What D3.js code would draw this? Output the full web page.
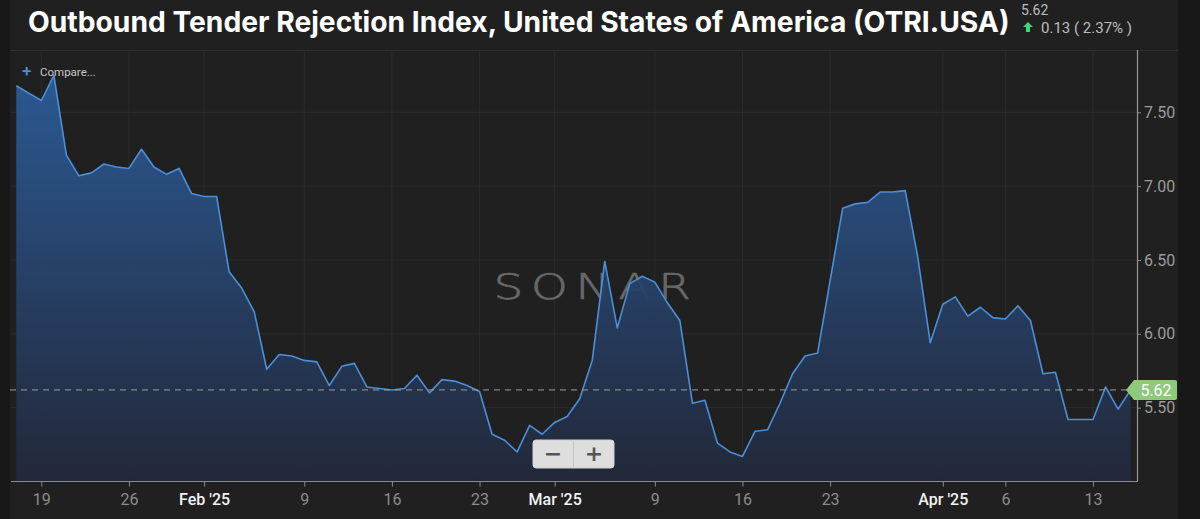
<!DOCTYPE html>
<html>
<head>
<meta charset="utf-8">
<script src="https://cdn.jsdelivr.net/npm/d3@7"></script>
<style>
  html, body { margin: 0; padding: 0; background: #181818; }
  #chart { width: 1200px; height: 519px; }
  .axis text { font-family: Roboto, sans-serif; }
</style>
</head>
<body>
<div id="chart"></div>
<script>
// OTRI.USA daily values, Jan 17 2025 -> Apr 16 2025
const startDate = "2025-01-17";
const endDate = "2025-04-16";
const otriValues = [
  7.68, 7.63, 7.58, 7.75, 7.21, 7.07, 7.09, 7.15, 7.13, 7.12,
  7.25, 7.13, 7.08, 7.12, 6.95, 6.93, 6.93, 6.42, 6.31, 6.15,
  5.76, 5.86, 5.85, 5.82, 5.81, 5.65, 5.78, 5.80, 5.64, 5.63,
  5.62, 5.63, 5.72, 5.60, 5.69, 5.68, 5.65, 5.61, 5.32, 5.28,
  5.20, 5.38, 5.32, 5.40, 5.44, 5.56, 5.82, 6.49, 6.04, 6.34,
  6.39, 6.35, 6.21, 6.09, 5.53, 5.55, 5.26, 5.20, 5.17, 5.34,
  5.35, 5.53, 5.73, 5.85, 5.87, 6.36, 6.85, 6.88, 6.89, 6.96,
  6.96, 6.97, 6.52, 5.94, 6.20, 6.25, 6.12, 6.18, 6.11, 6.10,
  6.19, 6.09, 5.73, 5.74, 5.42, 5.42, 5.42, 5.64, 5.49, 5.62
];
const xTickDates = ["2025-01-19", "2025-01-26", "2025-02-01", "2025-02-09", "2025-02-16", "2025-02-23",
                    "2025-03-01", "2025-03-09", "2025-03-16", "2025-03-23", "2025-04-01", "2025-04-06", "2025-04-13"];
const xTickLabels = ["19", "26", "Feb '25", "9", "16", "23", "Mar '25", "9", "16", "23", "Apr '25", "6", "13"];
const yTicks = [5.5, 6.0, 6.5, 7.0, 7.5];
const yDomain = [5.0, 7.922];
const chartTitle = "Outbound Tender Rejection Index, United States of America (OTRI.USA)";

function OtriChart(container) {
  this.container = "#" + container;
  this.width = 1200;
  this.height = 519;
  this.plot = { left: 10, top: 50, right: 1137, bottom: 481.5 };
  this.svg = null;
  this.x = null;
  this.y = null;
}

OtriChart.prototype = {
  constructor: OtriChart,

  init: function() {
    let self = this;
    let p = self.plot;
    let parse = d3.utcParse("%Y-%m-%d");
    let days = d3.utcDay.range(parse(startDate), d3.utcDay.offset(parse(endDate), 1));
    let data = days.map((d, i) => ({ date: d, value: otriValues[i] }));

    self.svg = d3.select(self.container).append("svg")
      .attr("width", self.width)
      .attr("height", self.height);

    // backgrounds
    self.svg.append("rect").attr("width", self.width).attr("height", self.height).attr("fill", "#181818");
    self.svg.append("rect").attr("x", 10).attr("width", 1168).attr("height", self.height).attr("fill", "#202020");
    self.svg.append("line")
      .attr("x1", 10).attr("x2", 1178).attr("y1", 50.5).attr("y2", 50.5)
      .attr("stroke", "#2f2f2f");

    self.x = d3.scaleUtc()
      .domain([parse(startDate), parse(endDate)])
      .range([16.3, 1130.6]);
    self.y = d3.scaleLinear()
      .domain(yDomain)
      .range([p.bottom, p.top]);

    let tickDates = xTickDates.map(parse);

    // grid
    self.svg.append("g").selectAll("line")
      .data(tickDates).enter().append("line")
      .attr("x1", d => self.x(d)).attr("x2", d => self.x(d))
      .attr("y1", p.top).attr("y2", p.bottom)
      .attr("stroke", "#2b2b2b");
    self.svg.append("g").selectAll("line")
      .data(yTicks).enter().append("line")
      .attr("x1", p.left).attr("x2", p.right)
      .attr("y1", d => self.y(d)).attr("y2", d => self.y(d))
      .attr("stroke", "#2b2b2b");

    // watermark
    self.svg.append("text")
      .attr("x", 0).attr("y", 0)
      .attr("transform", "translate(596,299) scale(1.3,1)")
      .attr("text-anchor", "middle")
      .attr("font-family", "'DejaVu Sans', sans-serif")
      .attr("font-weight", 200)
      .attr("font-size", 36)
      .attr("letter-spacing", 6)
      .attr("fill", "#686868")
      .attr("stroke", "#686868")
      .attr("stroke-width", 0.7)
      .text("SONAR");

    // area
    let defs = self.svg.append("defs");
    let grad = defs.append("linearGradient")
      .attr("id", "otriFill")
      .attr("gradientUnits", "userSpaceOnUse")
      .attr("x1", 0).attr("x2", 0).attr("y1", p.top).attr("y2", p.bottom);
    grad.append("stop").attr("offset", 0).attr("stop-color", "#2c5f9e").attr("stop-opacity", 0.95);
    grad.append("stop").attr("offset", 1).attr("stop-color", "#22283a").attr("stop-opacity", 0.95);

    let area = d3.area()
      .x(d => self.x(d.date))
      .y0(p.bottom)
      .y1(d => self.y(d.value));
    let line = d3.line()
      .x(d => self.x(d.date))
      .y(d => self.y(d.value));

    self.svg.append("path").datum(data)
      .attr("d", area)
      .attr("fill", "url(#otriFill)");
    self.svg.append("path").datum(data)
      .attr("d", line)
      .attr("fill", "none")
      .attr("stroke", "#4a8fd8")
      .attr("stroke-width", 1.6)
      .attr("stroke-linejoin", "round");

    // last value dashed line + label
    let last = data[data.length - 1];
    let prev = data[data.length - 2];
    let ly = self.y(last.value);
    self.svg.append("line")
      .attr("x1", p.left).attr("x2", self.x(last.date))
      .attr("y1", ly).attr("y2", ly)
      .attr("stroke", "#a09e90")
      .attr("stroke-width", 1)
      .attr("stroke-dasharray", "6,5");

    // x axis
    self.svg.append("line")
      .attr("x1", 11).attr("x2", p.right + 1)
      .attr("y1", p.bottom).attr("y2", p.bottom)
      .attr("stroke", "#8a8a8a").attr("stroke-width", 1.2);
    let xAxis = self.svg.append("g")
      .attr("class", "axis")
      .attr("transform", "translate(0," + p.bottom + ")")
      .call(d3.axisBottom(self.x)
        .tickValues(tickDates)
        .tickFormat((d, i) => xTickLabels[i])
        .tickSize(5)
        .tickPadding(7));
    xAxis.select(".domain").remove();
    xAxis.selectAll(".tick line").attr("stroke", "#8a8a8a");
    xAxis.selectAll(".tick text")
      .attr("font-size", 16)
      .attr("fill", (d, i) => xTickLabels[i].indexOf("'") >= 0 ? "#f2f2f2" : "#8c8c8c")
      .attr("font-weight", (d, i) => xTickLabels[i].indexOf("'") >= 0 ? 500 : 400);

    // y axis (right)
    let yAxis = self.svg.append("g")
      .attr("class", "axis")
      .attr("transform", "translate(" + p.right + ",0)")
      .call(d3.axisRight(self.y)
        .tickValues(yTicks)
        .tickFormat(d3.format(".2f"))
        .tickSize(4)
        .tickSizeOuter(0)
        .tickPadding(3));
    yAxis.select(".domain").attr("stroke", "#9a9a9a").attr("stroke-width", 1.2)
      .attr("d", "M0.5," + p.top + "V" + p.bottom);
    yAxis.selectAll(".tick line").attr("stroke", "#8a8a8a");
    yAxis.selectAll(".tick text").attr("font-size", 16).attr("fill", "#9c9c9c");

    let tag = self.svg.append("g").attr("transform", "translate(0," + ly + ")");
    tag.append("path")
      .attr("d", "M1126,0 L1134,-10 H1175 Q1177,-10 1177,-8 V8 Q1177,10 1175,10 H1134 Z")
      .attr("fill", "#8ec97c");
    tag.append("text")
      .attr("x", 1156).attr("y", 6)
      .attr("text-anchor", "middle")
      .attr("font-family", "Roboto, sans-serif")
      .attr("font-size", 16)
      .attr("fill", "#ffffff")
      .text(d3.format(".2f")(last.value));

    // header
    let title = self.svg.append("text")
      .attr("x", 28).attr("y", 31.5)
      .attr("font-family", "Inter, 'Open Sans', sans-serif")
      .attr("font-weight", 700)
      .attr("font-size", 30)
      .attr("fill", "#ffffff")
      .text(chartTitle);
    let tw = title.node().getComputedTextLength();
    title.attr("font-size", 30 * 982 / tw);

    let change = last.value - prev.value;
    self.svg.append("text")
      .attr("x", 1021).attr("y", 15)
      .attr("font-family", "Roboto, sans-serif")
      .attr("font-size", 14)
      .attr("fill", "#bdbdbd")
      .text(d3.format(".2f")(last.value));
    self.svg.append("path")
      .attr("d", "M1028,22 L1033,27 H1030 V32 H1026 V27 H1023 Z")
      .attr("fill", "#3ed67f");
    self.svg.append("text")
      .attr("x", 1041).attr("y", 33)
      .attr("font-family", "Roboto, sans-serif")
      .attr("font-size", 15)
      .attr("fill", "#bdbdbd")
      .text(d3.format(".2f")(change) + " ( " + d3.format(".2f")(change / prev.value * 100) + "% )");

    // compare + zoom controls
    self.svg.append("text")
      .attr("x", 22).attr("y", 77)
      .attr("font-family", "Roboto, sans-serif").attr("font-size", 17)
      .attr("font-weight", 500)
      .attr("fill", "#4a8fd8")
      .text("+");
    self.svg.append("text")
      .attr("x", 40).attr("y", 76)
      .attr("font-family", "Roboto, sans-serif").attr("font-size", 11.5)
      .attr("fill", "#c8c8c8")
      .text("Compare...");

    let zoom = self.svg.append("g").attr("transform", "translate(533,440)");
    zoom.append("rect").attr("width", 81).attr("height", 28).attr("rx", 3)
      .attr("fill", "#dedede").attr("stroke", "#cfcfcf");
    zoom.append("line").attr("x1", 40.5).attr("x2", 40.5).attr("y1", 1).attr("y2", 27).attr("stroke", "#c4c4c4");
    zoom.append("text").attr("x", 20).attr("y", 21).attr("text-anchor", "middle")
      .attr("font-family", "'DejaVu Sans', sans-serif").attr("font-weight", 700).attr("font-size", 22)
      .attr("fill", "#555").text("\u2212");
    zoom.append("text").attr("x", 61).attr("y", 21).attr("text-anchor", "middle")
      .attr("font-family", "'DejaVu Sans', sans-serif").attr("font-weight", 700).attr("font-size", 22)
      .attr("fill", "#555").text("+");
  }
};

let chart = new OtriChart("chart");
chart.init();
</script>
</body>
</html>
